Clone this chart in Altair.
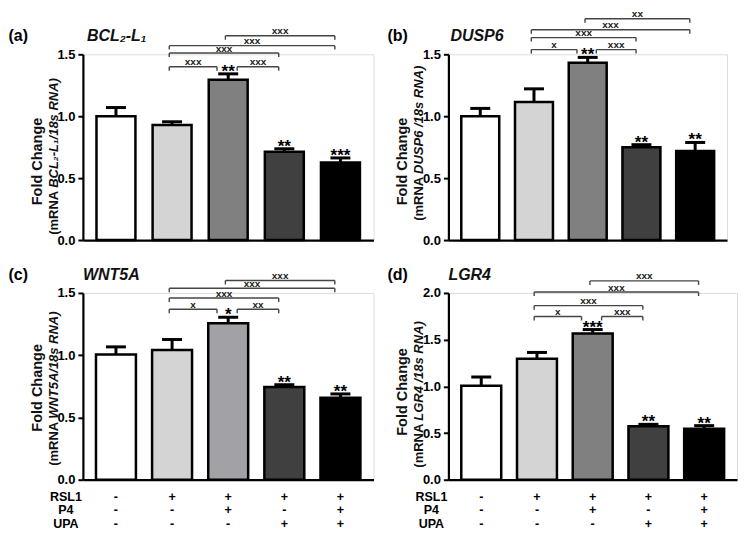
import altair as alt
import pandas as pd

FONT = "Liberation Sans"

GROUPS = [1, 2, 3, 4, 5]
FILLS = ["#ffffff", "#d4d4d4", "#808080", "#404040", "#000000"]
FILLS_C = ["#ffffff", "#d4d4d4", "#a2a2a6", "#404040", "#000000"]

TAGS = ["(a)", "(b)", "(c)", "(d)"]
GENES = ["BCL₂-L₁", "DUSP6", "WNT5A", "LGR4"]
YLAB_UP = "(mRNA"
YLAB_IT = ["BCL₂-L₁/18s RNA)", " DUSP6 /18s RNA)", " WNT5A/18s RNA)", " LGR4 /18s RNA)"]
YLAB_1 = "Fold Change"

# bar heights (mean) and tops of error bars
A_MEAN = [1.00, 0.93, 1.295, 0.712, 0.627]
A_TOP = [1.07, 0.955, 1.342, 0.737, 0.663]
A_STARS = ["", "", "**", "**", "***"]
B_MEAN = [1.00, 1.114, 1.432, 0.750, 0.720]
B_TOP = [1.063, 1.221, 1.475, 0.770, 0.788]
B_STARS = ["", "", "**", "**", "**"]
C_MEAN = [1.006, 1.042, 1.257, 0.745, 0.658]
C_TOP = [1.067, 1.126, 1.305, 0.763, 0.689]
C_STARS = ["", "", "*", "**", "**"]
D_MEAN = [1.005, 1.295, 1.567, 0.572, 0.545]
D_TOP = [1.10, 1.363, 1.608, 0.593, 0.579]
D_STARS = ["", "", "***", "**", "**"]

# comparison brackets (group from -> group to), their heights and labels
PAIR_FROM = [2, 3, 2, 2, 3]
PAIR_TO = [3, 4, 4, 5, 5]
A_LVL = [1.40, 1.40, 1.51, 1.57, 1.65]
A_TXT = ["xxx", "xxx", "xxx", "xxx", "xxx"]
B_LVL = [1.538, 1.538, 1.635, 1.698, 1.787]
B_TXT = ["x", "xxx", "xxx", "xxx", "xx"]
C_LVL = [1.369, 1.369, 1.459, 1.538, 1.600]
C_TXT = ["x", "xx", "xxx", "xxx", "xxx"]
D_LVL = [1.748, 1.748, 1.864, 2.010, 2.129]
D_TXT = ["x", "xxx", "xxx", "xxx", "xxx"]

# treatment table
ROW_NAMES = ["RSL1", "P4", "UPA"]
RSL1 = ["-", "+", "+", "+", "+"]
P4 = ["-", "-", "+", "-", "+"]
UPA = ["-", "-", "-", "+", "+"]


def bracket_df(lvls, texts, H, ymax):
    tick = 4.0 * ymax / H
    rows = []
    n = len(lvls)
    for k in range(n):
        a, b, l, t = PAIR_FROM[k], PAIR_TO[k], lvls[k], texts[k]
        shared_left = any(lvls[j] == l and PAIR_TO[j] == a for j in range(n) if j != k)
        shared_right = any(lvls[j] == l and PAIR_FROM[j] == b for j in range(n) if j != k)
        x1 = a + (0.16 if shared_left else -0.05)
        x2 = b - (0.20 if shared_right else 0.10)
        rows.append(dict(x1=x1, x2=x2, xm=(x1 + x2) / 2, lvl=l, lo=l - tick, txt=t))
    df = pd.DataFrame(rows)
    ends = pd.concat([
        df[["x1", "lvl", "lo"]].rename(columns={"x1": "xe"}),
        df[["x2", "lvl", "lo"]].rename(columns={"x2": "xe"}),
    ])
    return df, ends


def make_panel(i, mean, top, stars, lvls, btxt, fills, ymax, W, H, bar_w,
               j_frac, fc_frac, tag_dx, gene_dx, table):
    yticks = [v / 2 for v in range(int(ymax * 2) + 1)]
    xs = alt.Scale(domain=[0.5, 5.5], nice=False, zero=False)
    xa = alt.Axis(title=None, labels=False, ticks=False, grid=False,
                  domainColor="black", domainWidth=2.2)
    ys = alt.Scale(domain=[0, ymax], nice=False, zero=True)
    ya = alt.Axis(title=None, values=yticks, format=".1f", grid=False,
                  labelFont=FONT, labelFontSize=13, labelFontWeight="bold",
                  labelColor="black", labelPadding=3, tickColor="black",
                  tickSize=5, tickWidth=2, domainColor="black", domainWidth=2.2)

    def X(f):
        return alt.X(f, scale=xs, axis=xa)

    def Y(f):
        return alt.Y(f, scale=ys, axis=ya)

    df = pd.DataFrame({"g": GROUPS, "mean": mean, "top": top,
                       "star": stars, "fill": fills})
    base = alt.Chart(df)
    bars = base.mark_bar(size=bar_w, stroke="black", strokeWidth=2.5, opacity=1).encode(
        x=X("g:Q"), y=Y("mean:Q"), fill=alt.Fill("fill:N", scale=None))
    err = base.mark_rule(color="black", strokeWidth=3).encode(
        x=X("g:Q"), y=Y("mean:Q"), y2=alt.Y2("top:Q"))
    cap = base.mark_tick(orient="horizontal", size=20, thickness=3,
                         color="black", opacity=1).encode(x=X("g:Q"), y=Y("top:Q"))
    star = base.mark_text(font=FONT, fontSize=17, fontWeight="bold",
                          baseline="alphabetic", dy=3, color="black").encode(
        x=X("g:Q"), y=Y("top:Q"), text="star:N")

    bdf, ends = bracket_df(lvls, btxt, H, ymax)
    bc = "#454545"
    bl = alt.Chart(bdf).mark_rule(color=bc, strokeWidth=1.4).encode(
        x=X("x1:Q"), x2=alt.X2("x2:Q"), y=Y("lvl:Q"))
    be = alt.Chart(ends).mark_rule(color=bc, strokeWidth=1.4).encode(
        x=X("xe:Q"), y=Y("lvl:Q"), y2=alt.Y2("lo:Q"))
    bt = alt.Chart(bdf).mark_text(font=FONT, fontSize=10, fontWeight="bold",
                                  baseline="alphabetic", dy=-1.5, color="#1a1a1a").encode(
        x=X("xm:Q"), y=Y("lvl:Q"), text="txt:N")

    tdf = pd.DataFrame({"tag": [TAGS[i]], "gene": [GENES[i]], "fc": [YLAB_1],
                        "up": [YLAB_UP], "it": [YLAB_IT[i]]})
    tb = alt.Chart(tdf)
    tag = tb.mark_text(font=FONT, fontSize=16, fontWeight="bold", align="left",
                       baseline="middle", color="black").encode(
        text="tag:N", x=alt.value(tag_dx), y=alt.value(-18))
    gene = tb.mark_text(font=FONT, fontSize=16, fontWeight="bold", fontStyle="italic",
                        align="left", baseline="middle", color="#111111").encode(
        text="gene:N", x=alt.value(gene_dx), y=alt.value(-18))
    fc = tb.mark_text(font=FONT, fontSize=14.5, fontWeight="bold", angle=270,
                      align="center", baseline="middle", color="#111111").encode(
        text="fc:N", x=alt.value(-45), y=alt.value(fc_frac * H))
    up = tb.mark_text(font=FONT, fontSize=13, fontWeight="bold", angle=270,
                      align="right", baseline="middle", color="#111111").encode(
        text="up:N", x=alt.value(-29), y=alt.value(j_frac * H))
    it = tb.mark_text(font=FONT, fontSize=13, fontWeight="bold", fontStyle="italic",
                      angle=270, align="left", baseline="middle", color="#111111").encode(
        text="it:N", x=alt.value(-29), y=alt.value(j_frac * H - 3))

    layers = [bars, err, cap, star, bl, be, bt, tag, gene, fc, up, it]

    if table:
        for r, (name, signs) in enumerate(zip(ROW_NAMES, [RSL1, P4, UPA])):
            py = H + 17 + 13.5 * r
            sdf = pd.DataFrame({"g": GROUPS, "s": signs})
            layers.append(alt.Chart(sdf).mark_text(
                font=FONT, fontSize=12.5, fontWeight="bold", baseline="middle",
                color="black").encode(x=X("g:Q"), y=alt.value(py), text="s:N"))
            ndf = pd.DataFrame({"n": [name]})
            layers.append(alt.Chart(ndf).mark_text(
                font=FONT, fontSize=12.5, fontWeight="bold", baseline="middle",
                align="center", color="black").encode(
                x=alt.value(-17), y=alt.value(py), text="n:N"))

    return alt.layer(*layers).properties(width=W, height=H)


pa = make_panel(0, A_MEAN, A_TOP, A_STARS, A_LVL, A_TXT, FILLS, 1.5, 291, 186, 39,
                0.735, 0.577, -74.5, 4, False)
pb = make_panel(1, B_MEAN, B_TOP, B_STARS, B_LVL, B_TXT, FILLS, 1.5, 279, 186, 38,
                0.66, 0.577, -61, 2, False)
pc = make_panel(2, C_MEAN, C_TOP, C_STARS, C_LVL, C_TXT, FILLS_C, 1.5, 291, 187, 40,
                0.69, 0.508, -74.5, 0, True)
pd_ = make_panel(3, D_MEAN, D_TOP, D_STARS, D_LVL, D_TXT, FILLS, 2.0, 289, 187, 40,
                 0.70, 0.53, -61, 0, True)

chart = alt.concat(pa, pb, pc, pd_, columns=2,
                   spacing={"row": 53, "column": 75}).properties(
    bounds="flush", padding=0
).configure_view(stroke=None).configure(background="white")

chart.save("out.html", embed_options={"renderer": "svg", "actions": False})
